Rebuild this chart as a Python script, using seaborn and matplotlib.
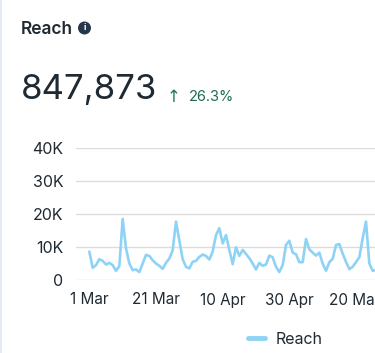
import matplotlib
matplotlib.use("Agg")
import matplotlib.pyplot as plt
import matplotlib.patches as mpatches
import numpy as np
import pandas as pd
import seaborn as sns

reach = [8.6, 3.7, 4.5, 6.3, 5.8, 4.7, 5.2, 4.5, 2.8, 4.2,
         18.5, 9.6, 5.0, 3.0, 3.2, 2.4, 5.0, 7.6, 7.3, 6.0,
         5.0, 4.3, 3.4, 5.2, 6.5, 9.0, 17.7, 12.0, 6.3, 4.0,
         3.5, 5.5, 5.8, 7.0, 7.7, 7.3, 6.2, 8.6, 13.6, 15.7,
         11.1, 13.6, 9.1, 4.8, 9.9, 7.3, 9.1, 7.9, 6.6, 5.0,
         3.2, 5.2, 4.3, 4.7, 7.4, 6.9, 4.0, 2.4, 4.5, 10.6,
         11.9, 8.3, 7.8, 5.4, 5.4, 12.4, 9.3, 8.3, 7.4, 8.3,
         5.0, 2.8, 5.4, 6.4, 10.6, 10.9, 8.0, 5.5, 3.3, 4.0,
         5.4, 6.9, 12.6, 17.7, 5.0, 2.8, 3.0]
x_labels = ["1 Mar", "21 Mar", "10 Apr", "30 Apr", "20 May"]
y_labels = ["0", "10K", "20K", "30K", "40K"]
y_ticks = [0, 10000, 20000, 30000, 40000]

W, H = 375, 353
LINE = "#8ed3f5"
DARK = "#1f2a33"

sns.set_theme(style="white")
plt.rcParams["font.family"] = ["Inter", "DejaVu Sans"]

df = pd.DataFrame({"day": np.arange(len(reach)), "value": np.array(reach) * 1000})

fig = plt.figure(figsize=(W / 100, H / 100), dpi=100, facecolor="white")
ax = fig.add_axes([76 / W, (H - 280) / H, (W - 76) / W, 132 / H])

sns.lineplot(data=df, x="day", y="value", color=LINE, lw=1.9, ax=ax, label="Reach")

ax.set_xlim(-4, 85.7)
ax.set_ylim(0, 40000)
ax.set_xticks(np.arange(0, 100, 20))
ax.set_xticklabels(x_labels)
ax.set_yticks(y_ticks)
ax.set_yticklabels(y_labels)
ax.tick_params(axis="x", length=0, pad=9, labelsize=11, labelcolor=DARK)
ax.tick_params(axis="y", length=0, pad=9, labelsize=11.5, labelcolor=DARK)
ax.set_xlabel("")
ax.set_ylabel("")
ax.grid(axis="y", color="#dcdcdc", lw=1)
ax.set_axisbelow(True)
sns.despine(ax=ax, left=True, bottom=True, right=True, top=True)

ax.legend(loc="center left", bbox_to_anchor=(248 / W, (H - 339) / H), bbox_transform=fig.transFigure,
          frameon=False, fontsize=11.5, handlelength=1.05, handletextpad=0.65, borderpad=0, borderaxespad=0,
          labelcolor=DARK)
for h in ax.get_legend().get_lines():
    h.set_linewidth(3.5)

# header
fig.text(21 / W, (H - 29) / H, "Reach", fontsize=12.5, fontweight="semibold", color=DARK, va="center")
fig.text(84.5 / W, (H - 28) / H, "i", fontsize=6.5, fontweight="bold", color="white", ha="center", va="center",
         bbox=dict(boxstyle="circle,pad=0.22", fc="#25384a", ec="none"))
fig.text(21 / W, (H - 90) / H, "847,873", fontsize=25, color=DARK, va="center")
fig.text(174 / W, (H - 97) / H, "↑", fontsize=12, color="#1f7a55", ha="center", va="center",
         family=["DejaVu Sans"])
fig.text(189 / W, (H - 97) / H, "26.3%", fontsize=10.5, color="#1f6b4d", va="center")

# thin strip on the left edge
fig.add_artist(mpatches.Rectangle((0, 0), 2 / W, 1, transform=fig.transFigure, fc="#e4eaf3", ec="none"))

fig.savefig("out.png", dpi=100)
